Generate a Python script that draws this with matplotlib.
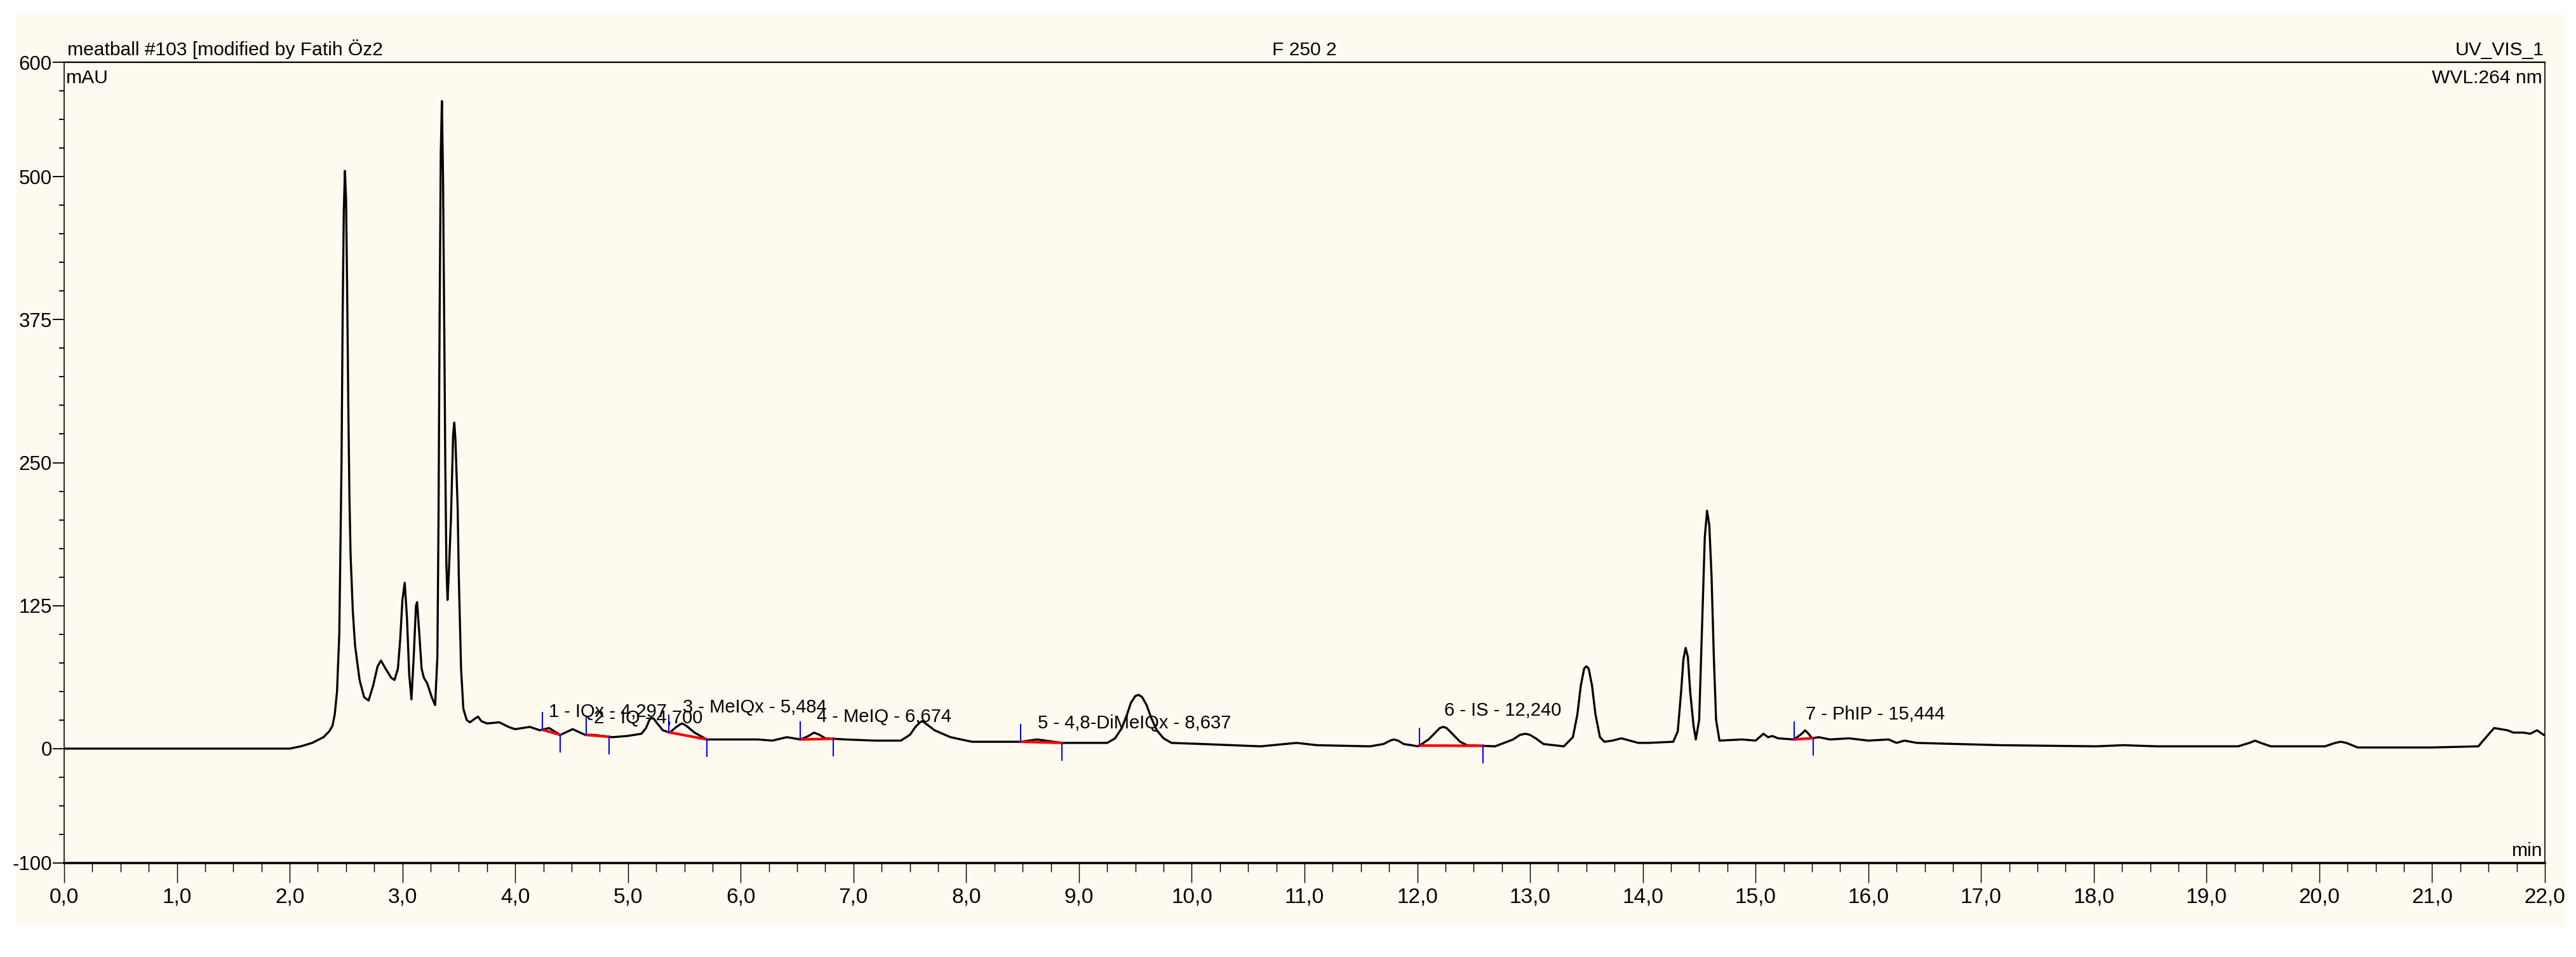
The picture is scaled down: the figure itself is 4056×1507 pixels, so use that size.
import numpy as np
import matplotlib
matplotlib.use("Agg")
import matplotlib.pyplot as plt
from matplotlib.patches import Rectangle
from matplotlib.ticker import FixedLocator, MultipleLocator

plt.rcParams['font.family'] = ['Liberation Sans Narrow', 'Liberation Sans', 'DejaVu Sans']

# chromatogram trace (time in min, signal in mAU)
time_min = [
    0.00, 1.00, 2.00, 2.10, 2.20, 2.30, 2.35, 2.38, 2.40, 2.42, 2.44, 2.46, 2.47, 2.48,
    2.49, 2.50, 2.51, 2.52, 2.53, 2.54, 2.56, 2.58, 2.62, 2.66, 2.70, 2.74, 2.78, 2.81,
    2.85, 2.90, 2.93, 2.96, 2.98, 3.00, 3.02, 3.04, 3.06, 3.08, 3.10, 3.12, 3.13, 3.15,
    3.17, 3.19, 3.22, 3.26, 3.29, 3.31, 3.32, 3.33, 3.34, 3.35, 3.36, 3.37, 3.38, 3.39,
    3.40, 3.41, 3.43, 3.45, 3.46, 3.47, 3.49, 3.50, 3.52, 3.54, 3.57, 3.60, 3.64, 3.67,
    3.70, 3.75, 3.86, 3.94, 4.00, 4.13, 4.22, 4.30, 4.40, 4.51, 4.62, 4.70, 4.86, 4.99,
    5.12, 5.16, 5.19, 5.21, 5.23, 5.26, 5.31, 5.37, 5.43, 5.46, 5.48, 5.50, 5.53, 5.59,
    5.70, 5.98, 6.15, 6.28, 6.41, 6.53, 6.60, 6.65, 6.70, 6.75, 6.93, 7.19, 7.42, 7.50,
    7.55, 7.59, 7.61, 7.64, 7.68, 7.72, 7.86, 8.05, 8.48, 8.63, 8.85, 9.25, 9.32, 9.38,
    9.42, 9.46, 9.50, 9.53, 9.56, 9.60, 9.64, 9.69, 9.75, 9.82, 10.10, 10.61, 10.93, 11.11,
    11.58, 11.70, 11.76, 11.79, 11.83, 11.88, 12.01, 12.10, 12.15, 12.20, 12.23, 12.26,
    12.30, 12.38, 12.44, 12.69, 12.85, 12.91, 12.96, 13.00, 13.05, 13.12, 13.30, 13.38,
    13.42, 13.45, 13.48, 13.50, 13.52, 13.55, 13.58, 13.62, 13.66, 13.73, 13.81, 13.96,
    14.05, 14.27, 14.31, 14.34, 14.36, 14.38, 14.40, 14.42, 14.45, 14.47, 14.50, 14.53,
    14.55, 14.57, 14.59, 14.61, 14.63, 14.65, 14.68, 14.88, 15.00, 15.07, 15.11, 15.15,
    15.20, 15.34, 15.41, 15.44, 15.47, 15.50, 15.56, 15.66, 15.83, 16.00, 16.18, 16.25,
    16.32, 16.43, 17.17, 18.02, 18.26, 18.56, 19.28, 19.38, 19.43, 19.48, 19.57, 20.05,
    20.14, 20.19, 20.24, 20.34, 21.00, 21.41, 21.47, 21.55, 21.61, 21.67, 21.72, 21.81,
    21.87, 21.93, 21.99,
]
signal_mau = [
    0, 0, 0, 2, 5, 10, 15, 20, 30, 50, 100, 250, 380, 470,
    505, 480, 400, 300, 220, 170, 120, 90, 60, 45, 42, 55, 72, 77,
    70, 62, 60, 70, 95, 130, 145, 115, 65, 43, 80, 125, 128, 100,
    70, 62, 57, 45, 38, 80, 200, 380, 520, 566, 500, 380, 250, 160,
    130, 150, 200, 275, 285, 270, 210, 150, 70, 35, 25, 23, 26, 28,
    24, 22, 23, 19, 17, 19, 16, 18, 12, 17, 12, 12, 10, 11,
    13, 18, 25, 27, 26, 22, 16, 14, 19, 21, 22, 21, 19, 14,
    8, 8, 8, 7, 10, 8, 11, 14, 12, 9, 8, 7, 7, 12,
    19, 23, 24, 22, 19, 16, 10, 6, 6, 8, 5, 5, 9, 18,
    28, 40, 46, 47, 45, 38, 27, 16, 9, 5, 4, 2, 5, 3,
    2, 4, 7, 8, 7, 4, 2, 8, 13, 18, 19, 18,
    14, 6, 3, 2, 8, 12, 13, 12, 9, 4, 2, 10,
    30, 55, 70, 72, 70, 55, 30, 10, 6, 7, 9, 5,
    5, 6, 15, 50, 78, 88, 80, 50, 20, 8, 25, 120,
    185, 208, 195, 150, 80, 25, 7, 8, 7, 13, 10, 11,
    9, 8, 13, 16, 13, 9, 10, 8, 9, 7, 8, 5,
    7, 5, 3, 2, 3, 2, 2, 5, 7, 5, 2, 2,
    5, 6, 5, 1, 1, 2, 9, 18, 17, 16, 14, 14,
    13, 16, 12,
]

# integrated peaks
peak_labels = ["1 - IQx - 4,297", "2 - IQ - 4,700", "3 - MeIQx - 5,484", "4 - MeIQ - 6,674",
               "5 - 4,8-DiMeIQx - 8,637", "6 - IS - 12,240", "7 - PhIP - 15,444"]
peak_rt = [4.297, 4.700, 5.484, 6.674, 8.637, 12.240, 15.444]
peak_start = [4.24, 4.63, 5.36, 6.53, 8.48, 12.02, 15.34]
peak_end = [4.40, 4.83, 5.70, 6.82, 8.85, 12.58, 15.51]

y_major = [600, 500, 375, 250, 125, 0, -100]
y_major_labels = ["600", "500", "375", "250", "125", "0", "-100"]
x_major = list(range(0, 23))

W, H = 4056, 1507
DPI = 300
fig = plt.figure(figsize=(W / DPI, H / DPI), dpi=DPI, facecolor='white')
fig.patches.append(Rectangle((25 / W, 1 - 1458 / H), (4039 - 25) / W, (1458 - 23) / H,
                             transform=fig.transFigure, facecolor='floralwhite',
                             edgecolor='none', zorder=-10))

ax = fig.add_axes([101 / W, 1 - 1359 / H, (4007 - 101) / W, (1359 - 98) / H])
ax.set_facecolor('none')
ax.set_xlim(0, 22)
ax.set_ylim(-100, 600)

t = np.array(time_min)
s = np.array(signal_mau)
ax.plot(t, s, color='black', lw=0.8, zorder=3)

# integration baselines and delimiters
for t0, t1 in zip(peak_start, peak_end):
    y0 = np.interp(t0, t, s)
    y1 = np.interp(t1, t, s)
    ax.plot([t0, t1], [y0, y1], color='red', lw=1.0, zorder=4)
    ax.plot([t0, t0], [y0, y0 + 15], color='blue', lw=0.5, zorder=4)
    ax.plot([t1, t1], [y1, y1 - 15], color='blue', lw=0.5, zorder=4)

for lab, rt in zip(peak_labels, peak_rt):
    ax.text(rt, np.interp(rt, t, s) + 10, lab, ha='left', va='baseline',
            fontsize=7.0, zorder=5)

# frame
for side, lw in [('top', 0.55), ('bottom', 0.85), ('left', 0.4), ('right', 0.4)]:
    ax.spines[side].set_linewidth(lw)
    ax.spines[side].set_color('black')

ax.xaxis.set_major_locator(FixedLocator(x_major))
ax.xaxis.set_minor_locator(MultipleLocator(0.25))
ax.set_xticklabels([f"{v:.1f}".replace('.', ',') for v in x_major])
ax.yaxis.set_major_locator(FixedLocator(y_major))
ax.yaxis.set_minor_locator(MultipleLocator(25))
ax.set_yticklabels(y_major_labels)

ax.tick_params(axis='x', which='major', direction='out', length=7.4, width=0.35,
               pad=1.8, labelsize=8)
ax.tick_params(axis='x', which='minor', direction='out', length=3.4, width=0.35)
ax.tick_params(axis='y', which='major', direction='out', length=4.3, width=0.45,
               pad=0.3, labelsize=7.5)
ax.tick_params(axis='y', which='minor', direction='out', length=1.9, width=0.45)

# header and axis unit texts
fig.text(106 / W, 1 - 87 / H, "meatball #103 [modified by Fatih Öz2", ha='left',
         va='baseline', fontsize=7.2)
fig.text((101 + 4007) / 2 / W, 1 - 87 / H, "F 250 2", ha='center', va='baseline', fontsize=7.2)
fig.text(4005 / W, 1 - 87 / H, "UV_VIS_1", ha='right', va='baseline', fontsize=7.2)
fig.text(104 / W, 1 - 131 / H, "mAU", ha='left', va='baseline', fontsize=7.2)
fig.text(4003 / W, 1 - 131 / H, "WVL:264 nm", ha='right', va='baseline', fontsize=7.2)
fig.text(4003 / W, 1 - 1348 / H, "min", ha='right', va='baseline', fontsize=7.2)

fig.savefig("out.png", dpi=DPI, facecolor='white')
